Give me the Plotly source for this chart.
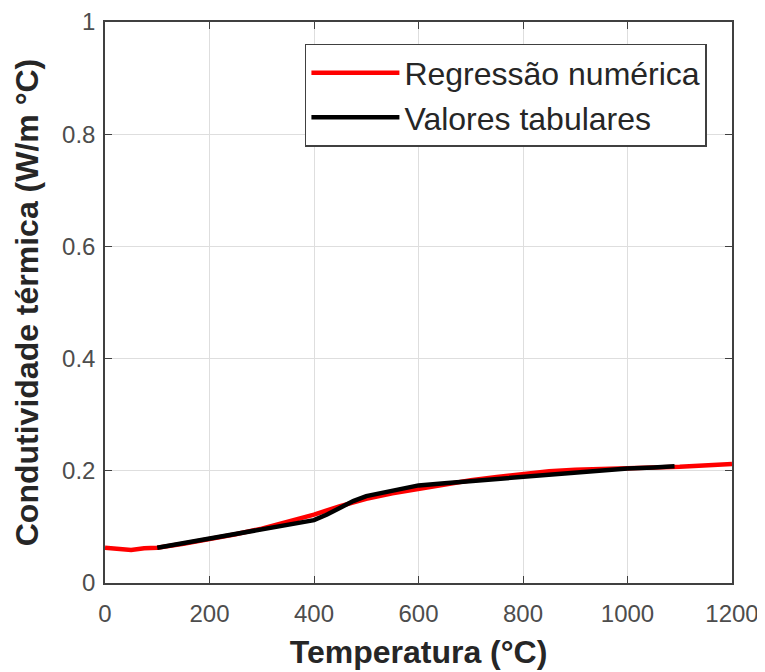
import plotly.graph_objects as go

# Regressão numérica (red)
reg_temp = [0, 25, 50, 75, 100, 150, 200, 250, 300, 350, 400, 450, 500, 550, 600,
            650, 700, 750, 800, 850, 900, 950, 1000, 1050, 1100, 1150, 1200]
reg_k = [0.063, 0.062, 0.059, 0.062, 0.063, 0.070, 0.078, 0.087, 0.097, 0.109, 0.122,
         0.137, 0.150, 0.160, 0.168, 0.176, 0.183, 0.189, 0.195, 0.199, 0.202, 0.204,
         0.205, 0.206, 0.207, 0.209, 0.212]

# Valores tabulares (black)
tab_temp = [100, 150, 200, 250, 300, 350, 400, 425, 450, 475, 500, 550, 600, 650,
            700, 750, 800, 850, 900, 950, 1000, 1050, 1090]
tab_k = [0.063, 0.071, 0.080, 0.088, 0.095, 0.103, 0.112, 0.122, 0.135, 0.146, 0.155,
         0.165, 0.174, 0.178, 0.182, 0.185, 0.189, 0.193, 0.197, 0.200, 0.204, 0.206, 0.208]

x_ticks = [0, 200, 400, 600, 800, 1000, 1200]
y_ticks = [0, 0.2, 0.4, 0.6, 0.8, 1]
y_tick_labels = ["0", "0.2", "0.4", "0.6", "0.8", "1"]

FONT = "Liberation Sans, Arial, sans-serif"
TXT = "#262626"

fig = go.Figure()
fig.add_trace(go.Scatter(x=reg_temp, y=reg_k, mode="lines", name="Regressão numérica",
                         line=dict(color="#ff0000", width=4.5)))
fig.add_trace(go.Scatter(x=tab_temp, y=tab_k, mode="lines", name="Valores tabulares",
                         line=dict(color="#000000", width=4.5)))

axis_common = dict(showgrid=True, gridcolor="#dedede", gridwidth=1,
                   showline=True, linecolor="#404040", linewidth=1.5, mirror="ticks",
                   ticks="inside", ticklen=7, tickcolor="#404040", tickwidth=1,
                   zeroline=False, automargin=False, ticklabeloverflow="allow",
                   tickfont=dict(family=FONT, size=24, color="#4d4d4d"))

fig.update_xaxes(range=[0, 1200], tickvals=x_ticks, ticklabelstandoff=8,
                 title=dict(text="<b>Temperatura (°C)</b>", font=dict(family=FONT, size=32, color=TXT),
                            standoff=15),
                 **axis_common)
fig.update_yaxes(range=[0, 1], tickvals=y_ticks, ticktext=y_tick_labels, ticklabelstandoff=3,
                 title=dict(text="<b>Condutividade térmica (W/m °C)</b>",
                            font=dict(family=FONT, size=32, color=TXT), standoff=14),
                 **axis_common)

# page body adds an 8px offset, so the figure is sized to end at the window edge
fig.update_layout(
    width=757, height=664,
    margin=dict(l=97, r=33, t=14, b=89),
    plot_bgcolor="white", paper_bgcolor="white",
    font=dict(family=FONT, color=TXT),
    showlegend=True,
    legend=dict(x=0.960, y=0.961, xanchor="right", yanchor="top",
                bgcolor="white", bordercolor="#404040", borderwidth=1.5,
                font=dict(family=FONT, size=32, color=TXT), itemwidth=88,
                tracegroupgap=0),
)

fig.write_html("out.html")
